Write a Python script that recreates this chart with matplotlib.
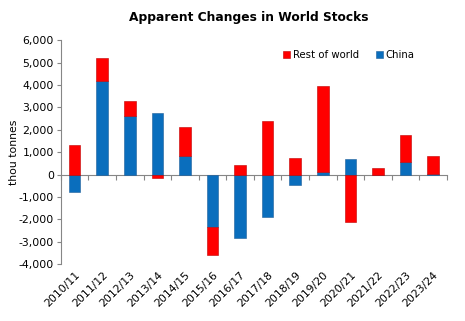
import numpy as np
import matplotlib.pyplot as plt
from matplotlib.ticker import FuncFormatter, FixedLocator

seasons = ["2010/11", "2011/12", "2012/13", "2013/14", "2014/15", "2015/16", "2016/17",
           "2017/18", "2018/19", "2019/20", "2020/21", "2021/22", "2022/23", "2023/24"]
china = [-780, 4160, 2600, 2730, 820, -2340, -2810, -1890, -450, 100, 680, 0, 580, 20]
rest_of_world = [1340, 1060, 670, -140, 1320, -1230, 420, 2380, 730, 3840, -2120, 300, 1170, 800]

RED = "#ff0000"
BLUE = "#0a6ebd"
GREY = "#868686"

china = np.array(china, dtype=float)
row = np.array(rest_of_world, dtype=float)
x = np.arange(len(seasons))

# Excel-style stacking: positives stack up, negatives stack down
row_bottom = np.where(np.sign(row) == np.sign(china), china, 0.0)

fig = plt.figure(figsize=(4.65, 3.21), dpi=100)
ax = fig.add_axes([0.131, 0.177, 0.83, 0.698])

w = 0.42
ax.bar(x, china, w, color=BLUE, edgecolor="#1f5f9a", linewidth=0.4, label="China", zorder=2)
ax.bar(x, row, w, bottom=row_bottom, color=RED, edgecolor="#c00000", linewidth=0.4,
       label="Rest of world", zorder=2)

ax.set_xlim(-0.5, len(seasons) - 0.5)
ax.set_ylim(-4000, 6000)
ax.set_yticks(np.arange(-4000, 6001, 1000))
ax.yaxis.set_major_formatter(FuncFormatter(lambda v, p: f"{int(v):,}"))
ax.tick_params(axis="y", labelsize=7.8, length=3, color=GREY, pad=2)

# category labels sit at the bottom; the zero line carries the tick marks
ax.set_xticks(x)
ax.set_xticklabels(seasons, rotation=45, ha="right", rotation_mode="anchor", fontsize=7.8)
ax.tick_params(axis="x", length=0, pad=4)

for side in ["top", "right", "bottom"]:
    ax.spines[side].set_visible(False)
ax.spines["left"].set_color(GREY)
ax.spines["left"].set_linewidth(0.8)

zero_frac = (0 - ax.get_ylim()[0]) / (ax.get_ylim()[1] - ax.get_ylim()[0])
zax = ax.secondary_xaxis(zero_frac)
zax.xaxis.set_major_locator(FixedLocator(np.arange(len(seasons) + 1) - 0.5))
zax.tick_params(axis="x", direction="out", length=3.5, color=GREY, labelbottom=False,
                labeltop=False, bottom=True, top=False)
zax.spines["bottom"].set_color(GREY)
zax.spines["bottom"].set_linewidth(0.8)
zax.spines["top"].set_visible(False)
zax.set_xticklabels([])

ax.set_ylabel("thou tonnes", fontsize=7.8)
ax.yaxis.set_label_coords(-0.108, 0.5)
fig.text(0.535, 0.945, "Apparent Changes in World Stocks", ha="center", va="center",
         fontsize=8.8, fontweight="heavy")

handles, labels = ax.get_legend_handles_labels()
ax.legend(handles[::-1], labels[::-1], loc="upper left", bbox_to_anchor=(0.565, 0.975), ncol=2,
          frameon=False, fontsize=7.3, handlelength=0.7, handleheight=0.7, handletextpad=0.3,
          columnspacing=1.6, borderaxespad=0)

fig.savefig("out.png", dpi=100)
